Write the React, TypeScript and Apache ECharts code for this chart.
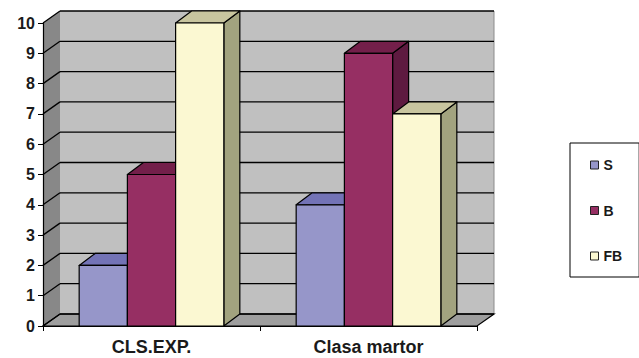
import React, { useEffect, useRef } from "react";
import * as echarts from "echarts";

const categories = ["CLS.EXP.", "Clasa martor"];
const seriesNames = ["S", "B", "FB"];
const sValues = [2, 4];
const bValues = [5, 9];
const fbValues = [10, 7];
const yTicks = [0, 1, 2, 3, 4, 5, 6, 7, 8, 9, 10];

const frontColors = ["#9696C9", "#962F63", "#FBF8D2"];
const topColors = ["#7373B6", "#731F4A", "#C8C59F"];
const sideColors = ["#5C5C8F", "#5E1A40", "#A2A37F"];

const WALL_DX = 17;
const WALL_DY = -12;
const BAR_DX = 16;
const BAR_DY = -12;
const FONT = "'Liberation Sans', Arial, sans-serif";
const TEXT_COLOR = "#1a1a1a";

function wallRender(params: any, api: any) {
  const cs = params.coordSys;
  const x0 = cs.x;
  const x1 = cs.x + cs.width;
  const y0 = api.coord([0, yTicks[0]])[1];
  const yTop = api.coord([0, yTicks[yTicks.length - 1]])[1];
  const children: any[] = [];
  // back wall
  children.push({
    type: "polygon",
    shape: {
      points: [
        [x0 + WALL_DX, yTop + WALL_DY],
        [x1 + WALL_DX, yTop + WALL_DY],
        [x1 + WALL_DX, y0 + WALL_DY],
        [x0 + WALL_DX, y0 + WALL_DY],
      ],
    },
    style: { fill: "#C0C0C0", stroke: null },
  });
  children.push({
    type: "line",
    shape: { x1: x1 + WALL_DX, y1: yTop + WALL_DY, x2: x1 + WALL_DX, y2: y0 + WALL_DY },
    style: { stroke: "#8c8c8c", lineWidth: 1 },
  });
  // left wall
  children.push({
    type: "polygon",
    shape: {
      points: [
        [x0, y0],
        [x0, yTop],
        [x0 + WALL_DX, yTop + WALL_DY],
        [x0 + WALL_DX, y0 + WALL_DY],
      ],
    },
    style: { fill: "#888888", stroke: null },
  });
  // floor
  children.push({
    type: "polygon",
    shape: {
      points: [
        [x0, y0],
        [x1, y0],
        [x1 + WALL_DX, y0 + WALL_DY],
        [x0 + WALL_DX, y0 + WALL_DY],
      ],
    },
    style: { fill: "#9E9E9E", stroke: "#000", lineWidth: 1.2 },
  });
  // gridlines
  yTicks.forEach((t) => {
    const y = api.coord([0, t])[1];
    children.push({
      type: "line",
      shape: { x1: x0 + WALL_DX, y1: y + WALL_DY, x2: x1 + WALL_DX, y2: y + WALL_DY },
      style: { stroke: "#000", lineWidth: 1.3 },
    });
    children.push({
      type: "line",
      shape: { x1: x0, y1: y, x2: x0 + WALL_DX, y2: y + WALL_DY },
      style: { stroke: "#000", lineWidth: 1.3 },
    });
  });
  return { type: "group", children };
}

function makeBarRender(k: number) {
  return (params: any, api: any) => {
    const ci = api.value(0);
    const v = api.value(1);
    const topPt = api.coord([ci, v]);
    const basePt = api.coord([ci, 0]);
    const band = api.size([1, 0])[0];
    const w = band / 4.5;
    const l = topPt[0] - 1.5 * w + k * w;
    const r = l + w;
    const t = topPt[1];
    const b = basePt[1];
    const stroke = { stroke: "#000", lineWidth: 1.2, lineJoin: "round" };
    return {
      type: "group",
      children: [
        {
          type: "polygon",
          shape: { points: [[r, t], [r + BAR_DX, t + BAR_DY], [r + BAR_DX, b + BAR_DY], [r, b]] },
          style: { fill: sideColors[k], ...stroke },
        },
        {
          type: "polygon",
          shape: { points: [[l, t], [l + BAR_DX, t + BAR_DY], [r + BAR_DX, t + BAR_DY], [r, t]] },
          style: { fill: topColors[k], ...stroke },
        },
        {
          type: "rect",
          shape: { x: l, y: t, width: w, height: b - t },
          style: { fill: frontColors[k], ...stroke },
        },
      ],
    };
  };
}

export default function App() {
  const ref = useRef<HTMLDivElement>(null);
  useEffect(() => {
    document.body.style.margin = "0";
    if (!ref.current) return;
    const chart = echarts.init(ref.current, undefined, { renderer: "svg" });
    const valueSets = [sValues, bValues, fbValues];
    chart.setOption({
      animation: false,
      backgroundColor: "#ffffff",
      grid: { left: 43, right: 162, top: 23, bottom: 32, containLabel: false },
      xAxis: {
        type: "category",
        data: categories,
        z: 5,
        boundaryGap: true,
        axisLine: { show: true, lineStyle: { color: "#000", width: 1.2 } },
        axisTick: { show: true, length: 5, alignWithLabel: false, lineStyle: { color: "#000" } },
        axisLabel: {
          margin: 12,
          fontSize: 18,
          fontWeight: "bold",
          fontFamily: FONT,
          color: TEXT_COLOR,
        },
        splitLine: { show: false },
      },
      yAxis: {
        type: "value",
        min: 0,
        max: 10,
        interval: 1,
        z: 5,
        axisLine: { show: true, lineStyle: { color: "#000", width: 1.2 } },
        axisTick: { show: true, length: 5, lineStyle: { color: "#000" } },
        axisLabel: {
          margin: 8,
          fontSize: 16,
          fontWeight: "bold",
          fontFamily: FONT,
          color: TEXT_COLOR,
        },
        splitLine: { show: false },
      },
      legend: {
        orient: "vertical",
        left: 570,
        top: 143,
        padding: [15, 17, 14, 20],
        itemGap: 31.5,
        itemWidth: 8,
        itemHeight: 8,
        icon: "rect",
        borderColor: "#000",
        borderWidth: 1,
        borderRadius: 0,
        itemStyle: { borderColor: "#222", borderWidth: 1 },
        textStyle: {
          fontSize: 14,
          lineHeight: 14,
          fontWeight: "bold",
          fontFamily: FONT,
          color: TEXT_COLOR,
          padding: [0, 0, 0, 0],
        },
        data: seriesNames,
      },
      series: [
        {
          type: "custom",
          name: "walls",
          silent: true,
          z: 1,
          clip: false,
          renderItem: wallRender,
          data: [[0, 0]],
          encode: { x: 0, y: 1 },
        },
        ...seriesNames.map((name, k) => ({
          type: "custom",
          name,
          silent: true,
          z: 2,
          clip: false,
          itemStyle: { color: frontColors[k] },
          renderItem: makeBarRender(k),
          data: valueSets[k].map((v, i) => [i, v]),
          encode: { x: 0, y: 1 },
        })),
      ],
    });
    return () => chart.dispose();
  }, []);
  return <div ref={ref} style={{ width: 639, height: 358 }} />;
}
